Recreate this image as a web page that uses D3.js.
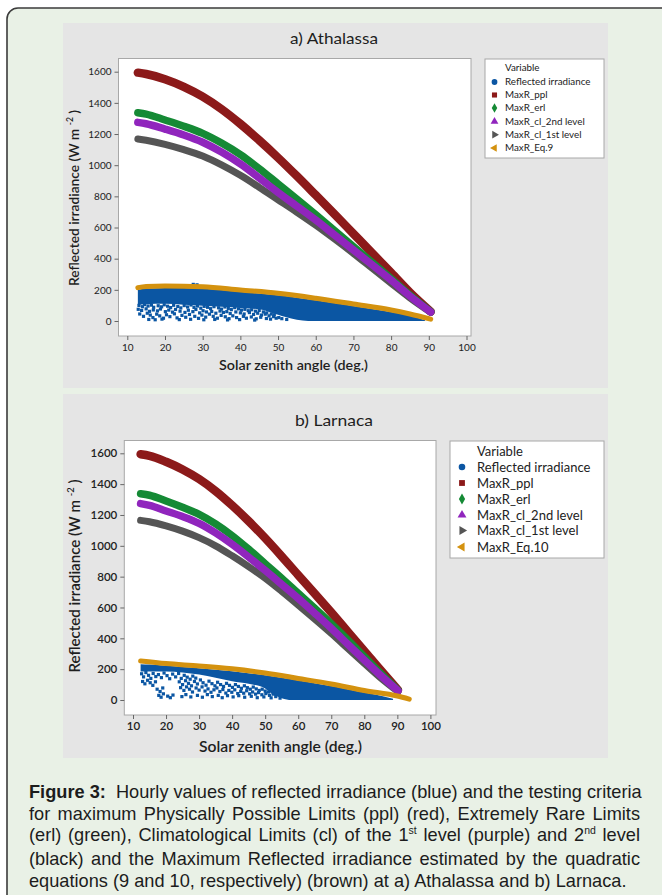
<!DOCTYPE html>
<html>
<head>
<meta charset="utf-8">
<script src="https://cdn.jsdelivr.net/npm/d3@7"></script>
<style>
  body { margin: 0; background: #fff; width: 662px; height: 895px; overflow: hidden; position: relative; }
  svg { position: absolute; left: 0; top: 0; }
  .cap { position: absolute; left: 29px; top: 782px; width: 611px; font-family: "Liberation Sans", Arial, sans-serif;
         font-size: 18.2px; line-height: 21.7px; color: #1c1c1c; }
  .cap div { text-align: justify; text-align-last: justify; white-space: nowrap; }
  .cap div.last { text-align-last: left; }
  .cap sup { font-size: 10.5px; vertical-align: 0; position: relative; top: -7px; }
  .tick text { font-family: Lato, "Open Sans", sans-serif; fill: #222; }
  .tick line { stroke: #666; }
</style>
</head>
<body>
<svg width="662" height="895"></svg>
<div class="cap">
  <div><b>Figure 3:</b>&nbsp; Hourly values of reflected irradiance (blue) and the testing criteria</div>
  <div>for maximum Physically Possible Limits (ppl) (red), Extremely Rare Limits</div>
  <div>(erl) (green), Climatological Limits (cl) of the 1<sup>st</sup> level (purple) and 2<sup>nd</sup> level</div>
  <div>(black) and the Maximum Reflected irradiance estimated by the quadratic</div>
  <div class="last">equations (9 and 10, respectively) (brown) at a) Athalassa and b) Larnaca.</div>
</div>
<script>
// ---- data ----
var xTicks = [10, 20, 30, 40, 50, 60, 70, 80, 90, 100];
var yTicks = [0, 200, 400, 600, 800, 1000, 1200, 1400, 1600];

// a) Athalassa
var szaA   = [12.8, 15, 20, 25, 30, 35, 40, 45, 50, 55, 60, 65, 70, 75, 80, 85, 90.5];
var pplA   = [1594, 1585, 1552, 1503, 1440, 1360, 1265, 1160, 1048, 930, 808, 685, 560, 435, 310, 183, 60];
var erlA   = [1337, 1328, 1290, 1250, 1204, 1142, 1068, 978, 880, 782, 682, 580, 477, 375, 272, 166, 60];
var cl2A   = [1275, 1266, 1232, 1194, 1147, 1084, 1008, 918, 825, 737, 648, 552, 456, 360, 262, 160, 58];
var cl1A   = [1168, 1160, 1134, 1100, 1059, 1002, 935, 858, 778, 698, 615, 526, 434, 338, 242, 148, 55];
var eqXA   = [12.8, 15, 20, 30, 40, 50, 60, 70, 80, 85, 90.5];
var eq9    = [214, 222, 225, 220, 199, 178, 146, 109, 71, 45, 12];
var blueXA   = [12.8, 15, 20, 25, 30, 35, 40, 45, 48, 50, 52, 55, 58, 60, 65, 70, 75, 80, 85, 89];
var blueTopA = [200, 208, 212, 211, 207, 199, 188, 177, 170, 165, 160, 150, 140, 133, 115, 96, 77, 58, 35, 5];
var blueLowA = [105, 108, 110, 105, 98, 92, 84, 75, 55, 40, 25, 8, 0, 0, 0, 0, 0, 0, 0, 0];
var blueDotsA = [
  [13.1,100],[14.0,92],[14.6,105],[15.5,96],[16.4,102],[17.0,88],[18.2,98],[19.1,91],[19.8,104],[20.7,95],
  [21.5,86],[22.3,101],[23.4,93],[24.2,84],[25.1,99],[26.0,90],[26.9,103],[27.7,87],[28.6,96],[29.5,82],
  [30.4,94],[31.3,88],[32.1,79],[33.0,92],[34.2,85],[35.0,76],[35.9,90],[36.8,81],[37.6,73],[38.5,86],
  [39.5,78],[40.3,70],[41.2,75],[42.1,66],[43.0,72],[44.0,63],[45.0,68],[46.1,58],[47.0,52],[48.2,45],[49.0,40],
  [12.9,75],[13.8,68],[15.0,78],[15.9,62],[16.9,71],[18.0,65],[18.8,77],[20.1,60],[21.0,70],[22.0,57],
  [22.8,74],[24.0,63],[25.3,55],[26.2,69],[27.4,60],[28.2,74],[29.2,52],[30.1,66],[31.0,58],[32.4,61],
  [33.5,50],[34.6,64],[35.5,55],[36.4,60],[37.3,48],[38.8,58],[40.0,52],[41.0,45],[42.4,54],[43.5,42],
  [44.6,50],[45.6,38],[46.6,44],[47.6,33],[48.8,28],[50.2,22],[51.0,15],[52.3,10],
  [13.3,45],[14.3,30],[15.3,50],[16.1,38],[16.8,22],[17.8,44],[18.6,33],[19.6,18],[20.4,40],[21.3,28],
  [22.5,46],[23.2,20],[24.5,36],[25.5,24],[26.5,42],[27.9,30],[28.9,17],[29.8,38],[30.8,25],[31.8,44],
  [32.8,30],[33.9,18],[34.9,36],[36.0,27],[37.0,15],[38.0,33],[39.0,22],[40.8,30],[41.6,18],[42.9,26],
  [44.2,14],[45.4,24],[46.9,16],[48.0,12],[49.5,18],
  [15.7,10],[17.4,8],[19.2,12],[23.8,9],[26.8,11],[30.3,8],[33.2,10],[36.6,7],[39.8,9],[43.8,6],
  [27.5,235],[28.5,232]
];
var labelsA = ["Reflected irradiance", "MaxR_ppl", "MaxR_erl", "MaxR_cl_2nd level", "MaxR_cl_1st level", "MaxR_Eq.9"];

// b) Larnaca
var szaB   = [12.3, 15, 20, 25, 30, 35, 40, 45, 50, 55, 60, 65, 70, 75, 80, 85, 90.2];
var pplB   = [1594, 1584, 1545, 1495, 1433, 1355, 1262, 1160, 1050, 932, 810, 690, 568, 443, 318, 192, 65];
var erlB   = [1338, 1328, 1291, 1250, 1204, 1142, 1066, 978, 884, 790, 692, 595, 495, 390, 281, 172, 63];
var cl2B   = [1274, 1262, 1226, 1190, 1146, 1084, 1010, 927, 840, 750, 659, 563, 465, 362, 259, 158, 60];
var cl1B   = [1165, 1156, 1129, 1095, 1053, 1000, 935, 865, 790, 705, 616, 525, 432, 335, 238, 143, 55];
var eqXB   = [12.3, 20, 30, 40, 50, 60, 70, 80, 90, 93.6];
var eq10   = [253, 236, 221, 202, 175, 140, 104, 62, 26, 6];
var blueXB   = [12.3, 15, 20, 25, 30, 35, 40, 45, 50, 52, 55, 58, 60, 65, 70, 75, 80, 85, 88.7];
var blueTopB = [232, 230, 222, 214, 206, 196, 186, 174, 160, 154, 145, 134, 127, 109, 90, 70, 48, 28, 8];
var blueLowB = [185, 185, 185, 178, 165, 145, 122, 105, 75, 40, 12, 0, 0, 0, 0, 0, 0, 0, 0];
var blueDotsB = [
  [12.6,170],[13.2,150],[13.9,178],[14.7,160],[15.4,140],[16.1,172],[16.9,152],[17.7,165],[18.6,145],[19.4,175],
  [20.3,158],[21.1,138],[22.0,168],[22.9,150],[23.8,172],[24.6,140],[25.5,160],[26.4,148],[27.3,135],[28.1,155],[29.0,142],
  [12.9,120],[13.6,105],[14.4,128],[15.2,112],[16.0,95],[16.8,118],[24.0,118],[25.0,100],[25.9,125],[26.8,108],
  [27.7,92],[28.6,120],[29.5,104],[30.4,130],[31.2,112],[32.1,96],[33.0,122],[33.9,106],[34.8,92],[35.6,115],
  [36.5,100],[37.4,88],[38.3,108],[39.2,95],[40.1,82],[41.0,100],[41.9,88],[42.8,76],[43.7,92],[44.6,80],
  [45.5,70],[46.4,84],[47.3,72],[48.2,62],[49.1,70],[50.0,58],[51.0,52],
  [17.3,70],[18.2,55],[19.0,78],[24.4,80],[25.4,62],[26.2,85],[27.1,70],[28.0,52],[29.1,78],[30.0,64],
  [30.9,85],[31.8,58],[32.7,72],[33.6,50],[34.5,66],[35.4,78],[36.3,55],[37.2,68],[38.1,45],[39.0,62],
  [39.9,50],[40.8,66],[41.7,42],[42.6,56],[43.5,44],[44.4,60],[45.3,40],[46.2,52],[47.1,38],[48.0,48],
  [49.0,34],[50.2,42],[51.3,30],[52.4,38],
  [17.8,30],[18.5,18],[19.2,40],[20.5,25],[21.3,15],[22.1,32],[24.8,22],[26.0,35],[27.5,20],[29.5,30],
  [31.0,18],[32.5,35],[34.0,22],[35.8,30],[37.0,15],[38.6,28],[40.3,20],[42.0,28],[43.8,18],[45.8,24],
  [47.6,15],[49.6,20],[51.8,14],[53.2,22],[54.5,12]
];
var labelsB = ["Reflected irradiance", "MaxR_ppl", "MaxR_erl", "MaxR_cl_2nd level", "MaxR_cl_1st level", "MaxR_Eq.10"];

var colors = ["#0b56a3", "#8c1a1a", "#158a35", "#9025bd", "#555555", "#d4920f"];
var symbols = [d3.symbolCircle, d3.symbolSquare, d3.symbolDiamond, d3.symbolTriangle, d3.symbolTriangle, d3.symbolTriangle];
var symRot = [0, 0, 0, 0, 90, -90];

var svg = d3.select("svg");

// outer frame
svg.append("rect").attr("x", 7).attr("y", 8).attr("width", 720).attr("height", 960).attr("rx", 11)
  .attr("fill", "#e9f1e6").attr("stroke", "#3b3b3b").attr("stroke-width", 1.6);

var panel = function(o) {
  var g = svg.append("g");
  g.append("rect").attr("x", 63).attr("y", o.py0).attr("width", 545).attr("height", o.py1 - o.py0).attr("fill", "#e5e5e5");

  g.append("text").attr("x", o.titleX).attr("y", o.titleY).attr("text-anchor", "middle")
    .attr("font-family", "Lato, 'Open Sans', sans-serif").attr("font-size", o.titleSize).attr("fill", "#1e1e1e")
    .attr("textLength", o.titleLen).attr("lengthAdjust", "spacingAndGlyphs").text(o.title);

  var x = d3.scaleLinear().domain([10, 100]).range(o.xr);
  var y = d3.scaleLinear().domain([0, 1600]).range(o.yr);

  g.append("rect").attr("x", o.box[0]).attr("y", o.box[1]).attr("width", o.box[2] - o.box[0]).attr("height", o.box[3] - o.box[1])
    .attr("fill", "#fff").attr("stroke", "#a8a8a8").attr("stroke-width", 1);

  var plot = g.append("g");

  // reflected irradiance cloud
  var dense = o.blueX.map(function(d, i) { return {x: d, top: o.blueTop[i], low: o.blueLow[i]}; });
  plot.append("path").datum(dense)
    .attr("d", d3.area().x(function(d) { return x(d.x); }).y0(function(d) { return y(d.low); }).y1(function(d) { return y(d.top); }).curve(d3.curveMonotoneX))
    .attr("fill", colors[0]);
  plot.append("g").selectAll("rect").data(o.blueDots).enter().append("rect")
    .attr("x", function(d) { return x(d[0]) - 1.6; })
    .attr("y", function(d) { return y(d[1]) - 1.6; })
    .attr("width", 3.2).attr("height", 3.2).attr("fill", colors[0]);

  var line = d3.line().x(function(d) { return x(d[0]); }).y(function(d) { return y(d[1]); }).curve(d3.curveMonotoneX);
  var zip = function(xs, ys) { return xs.map(function(d, i) { return [d, ys[i]]; }); };
  var series = [
    {v: o.ppl, c: colors[1], w: o.sw[0], xs: o.sza},
    {v: o.erl, c: colors[2], w: o.sw[1], xs: o.sza},
    {v: o.cl1, c: colors[4], w: o.sw[3], xs: o.sza},
    {v: o.cl2, c: colors[3], w: o.sw[2], xs: o.sza},
    {v: o.eq, c: colors[5], w: o.sw[4], xs: o.eqX}
  ];
  series.forEach(function(s) {
    plot.append("path").datum(zip(s.xs, s.v)).attr("d", line)
      .attr("fill", "none").attr("stroke", s.c).attr("stroke-width", s.w)
      .attr("stroke-linecap", "round").attr("stroke-linejoin", "round");
  });

  // axes
  var ay = g.append("g").attr("transform", "translate(" + o.box[0] + ",0)")
    .call(d3.axisLeft(y).tickValues(yTicks).tickFormat(d3.format("d")).tickSize(4).tickPadding(3));
  var ax = g.append("g").attr("transform", "translate(0," + o.box[3] + ")")
    .call(d3.axisBottom(x).tickValues(xTicks).tickFormat(d3.format("d")).tickSize(4).tickPadding(o.xPad));
  [ax, ay].forEach(function(a) {
    a.select(".domain").remove();
    a.selectAll("text").attr("font-size", o.tickSize).attr("font-weight", o.tickWeight);
  });

  g.append("text").attr("x", o.xtX).attr("y", o.xtY).attr("text-anchor", "middle")
    .attr("font-family", "Lato, 'Open Sans', sans-serif").attr("font-size", o.axSize).attr("font-weight", 600).attr("fill", "#1e1e1e")
    .attr("textLength", o.xtLen).attr("lengthAdjust", "spacingAndGlyphs").text("Solar zenith angle (deg.)");

  var yt = g.append("text").attr("transform", "translate(" + o.ytX + "," + o.ytY + ") rotate(-90)").attr("text-anchor", "middle")
    .attr("font-family", "Lato, 'Open Sans', sans-serif").attr("font-size", o.axSize).attr("font-weight", 600).attr("fill", "#1e1e1e")
    .attr("textLength", o.ytLen).attr("lengthAdjust", "spacingAndGlyphs");
  yt.append("tspan").text("Reflected irradiance (W m ");
  yt.append("tspan").attr("dy", -o.axSize * 0.4).attr("font-size", o.axSize * 0.62).text("-2");
  yt.append("tspan").attr("dy", o.axSize * 0.4).text(" )");

  // legend
  var L = o.leg;
  var lg = g.append("g");
  lg.append("rect").attr("x", L.x0).attr("y", L.y0).attr("width", L.x1 - L.x0).attr("height", L.y1 - L.y0)
    .attr("fill", "#fff").attr("stroke", "#a8a8a8");
  lg.append("text").attr("x", L.tx).attr("y", L.rows[0]).attr("dy", "0.35em").attr("font-family", "Lato, 'Open Sans', sans-serif")
    .attr("font-size", L.fs).attr("fill", "#222").text("Variable");
  o.labels.forEach(function(lab, i) {
    var yy = L.rows[i + 1];
    lg.append("path").attr("d", d3.symbol().type(symbols[i]).size(L.sym)())
      .attr("transform", "translate(" + L.mx + "," + yy + ") rotate(" + symRot[i] + ")").attr("fill", colors[i]);
    lg.append("text").attr("x", L.tx).attr("y", yy).attr("dy", "0.35em").attr("font-family", "Lato, 'Open Sans', sans-serif")
      .attr("font-size", L.fs).attr("fill", "#222").text(lab);
  });
};

panel({
  py0: 23, py1: 388, title: "a) Athalassa", titleX: 334, titleY: 44, titleSize: 16, titleLen: 88,
  xr: [127.3, 466.5], yr: [321, 71.7], box: [118.5, 58.5, 471, 336],
  sza: szaA, ppl: pplA, erl: erlA, cl2: cl2A, cl1: cl1A, eqX: eqXA, eq: eq9,
  blueX: blueXA, blueTop: blueTopA, blueLow: blueLowA, blueDots: blueDotsA,
  sw: [8.5, 7.5, 7.5, 7, 5], tickSize: 10, tickWeight: 400, xPad: 4,
  axSize: 14, xtX: 293.5, xtY: 370, xtLen: 149, ytX: 79, ytY: 198, ytLen: 176,
  labels: labelsA,
  leg: {x0: 485, y0: 59, x1: 604, y1: 158, tx: 505, mx: 494.5, fs: 9.8, sym: 26, rows: [68, 82, 95, 108, 121.5, 134.7, 148]}
});

panel({
  py0: 394, py1: 758, title: "b) Larnaca", titleX: 334, titleY: 426, titleSize: 16, titleLen: 78,
  xr: [133, 430.4], yr: [700, 453.3], box: [124.3, 440.5, 436, 715],
  sza: szaB, ppl: pplB, erl: erlB, cl2: cl2B, cl1: cl1B, eqX: eqXB, eq: eq10,
  blueX: blueXB, blueTop: blueTopB, blueLow: blueLowB, blueDots: blueDotsB,
  sw: [8.5, 7.5, 7.5, 7, 5], tickSize: 11.5, tickWeight: 600, xPad: 3,
  axSize: 14.5, xtX: 280.5, xtY: 752, xtLen: 163, ytX: 80, ytY: 576, ytLen: 193,
  labels: labelsB,
  leg: {x0: 450, y0: 441, x1: 604, y1: 558, tx: 477, mx: 462, fs: 13, sym: 34, rows: [451, 467, 483, 499, 515, 530.5, 547]}
});
</script>
</body>
</html>
